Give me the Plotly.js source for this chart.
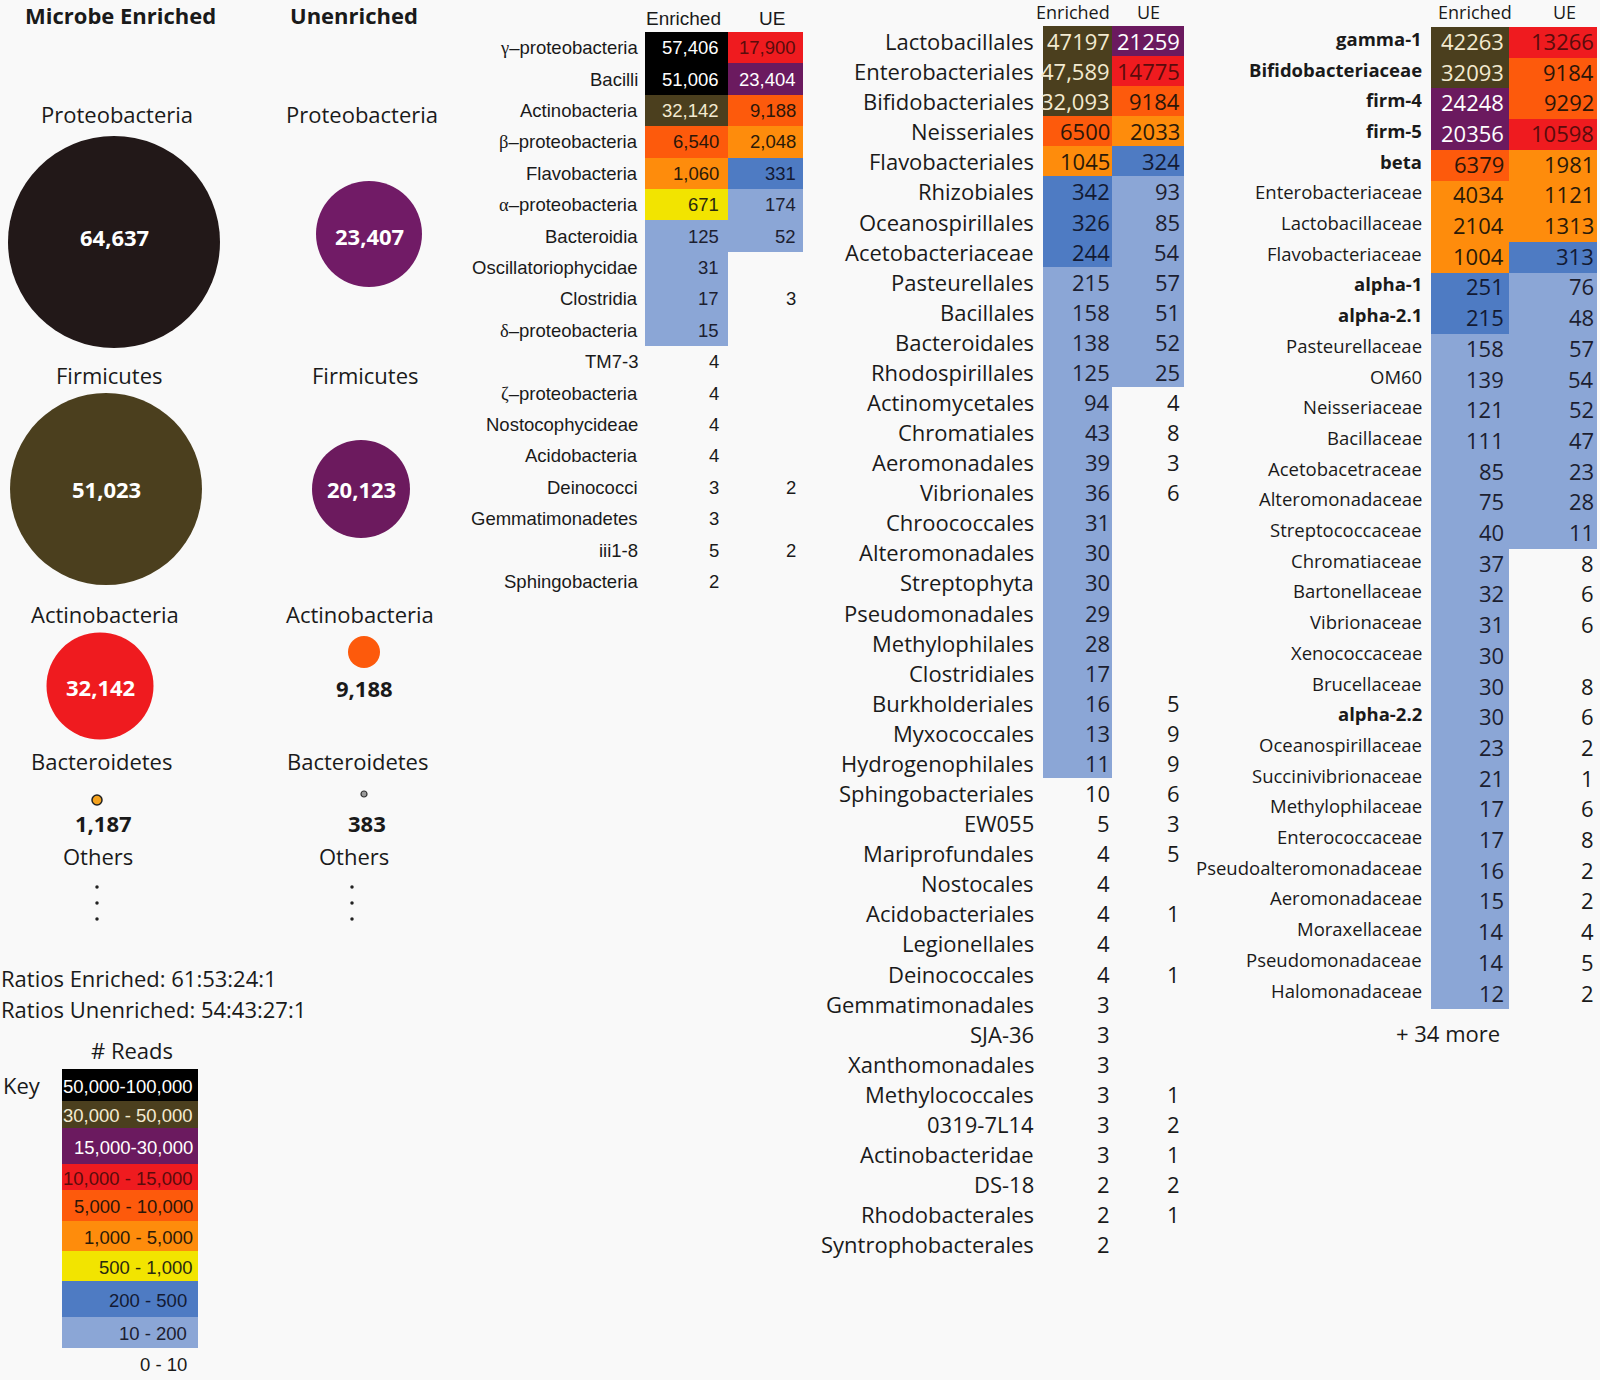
<!DOCTYPE html>
<html><head><meta charset="utf-8">
<script src="https://cdn.plot.ly/plotly-3.0.1.min.js"></script>
<style>html,body{margin:0;padding:0;background:#f9f9f9}</style>
</head><body><div id="chart" style="width:1600px;height:1380px"></div>
<script>
// ---------------- DATA ----------------
const PHYLA = ['Proteobacteria', 'Firmicutes', 'Actinobacteria', 'Bacteroidetes'];
const ENRICHED_READS = [64637, 51023, 32142, 1187];
const UNENRICHED_READS = [23407, 20123, 9188, 383];
const RATIO_TEXT = ['Ratios Enriched: 61:53:24:1', 'Ratios Unenriched: 54:43:27:1'];

const KEY_LABELS = ['50,000-100,000', '30,000 - 50,000', '15,000-30,000', '10,000 - 15,000',
  '5,000 - 10,000', '1,000 - 5,000', '500 - 1,000', '200 - 500', '10 - 200', '0 - 10'];

const T1_LABELS = ['γ–proteobacteria', 'Bacilli', 'Actinobacteria', 'β–proteobacteria', 'Flavobacteria',
  'α–proteobacteria', 'Bacteroidia', 'Oscillatoriophycidae', 'Clostridia', 'δ–proteobacteria', 'TM7-3',
  'ζ–proteobacteria', 'Nostocophycideae', 'Acidobacteria', 'Deinococci', 'Gemmatimonadetes', 'iii1-8', 'Sphingobacteria'];
const T1_ENRICHED = [57406, 51006, 32142, 6540, 1060, 671, 125, 31, 17, 15, 4, 4, 4, 4, 3, 3, 5, 2];
const T1_UE = [17900, 23404, 9188, 2048, 331, 174, 52, null, 3, null, null, null, null, null, 2, null, 2, null];

const T2_LABELS = ['Lactobacillales', 'Enterobacteriales', 'Bifidobacteriales', 'Neisseriales', 'Flavobacteriales',
  'Rhizobiales', 'Oceanospirillales', 'Acetobacteriaceae', 'Pasteurellales', 'Bacillales', 'Bacteroidales',
  'Rhodospirillales', 'Actinomycetales', 'Chromatiales', 'Aeromonadales', 'Vibrionales', 'Chroococcales',
  'Alteromonadales', 'Streptophyta', 'Pseudomonadales', 'Methylophilales', 'Clostridiales', 'Burkholderiales',
  'Myxococcales', 'Hydrogenophilales', 'Sphingobacteriales', 'EW055', 'Mariprofundales', 'Nostocales',
  'Acidobacteriales', 'Legionellales', 'Deinococcales', 'Gemmatimonadales', 'SJA-36', 'Xanthomonadales',
  'Methylococcales', '0319-7L14', 'Actinobacteridae', 'DS-18', 'Rhodobacterales', 'Syntrophobacterales'];
const T2_ENRICHED = [47197, 47589, 32093, 6500, 1045, 342, 326, 244, 215, 158, 138, 125, 94, 43, 39, 36, 31, 30, 30,
  29, 28, 17, 16, 13, 11, 10, 5, 4, 4, 4, 4, 4, 3, 3, 3, 3, 3, 3, 2, 2, 2];
const T2_UE = [21259, 14775, 9184, 2033, 324, 93, 85, 54, 57, 51, 52, 25, 4, 8, 3, 6, null, null, null,
  null, null, null, 5, 9, 9, 6, 3, 5, null, 1, null, 1, null, null, null, 1, 2, 1, 2, 1, null];

const T3_LABELS = ['gamma-1', 'Bifidobacteriaceae', 'firm-4', 'firm-5', 'beta', 'Enterobacteriaceae',
  'Lactobacillaceae', 'Flavobacteriaceae', 'alpha-1', 'alpha-2.1', 'Pasteurellaceae', 'OM60', 'Neisseriaceae',
  'Bacillaceae', 'Acetobacetraceae', 'Alteromonadaceae', 'Streptococcaceae', 'Chromatiaceae', 'Bartonellaceae',
  'Vibrionaceae', 'Xenococcaceae', 'Brucellaceae', 'alpha-2.2', 'Oceanospirillaceae', 'Succinivibrionaceae',
  'Methylophilaceae', 'Enterococcaceae', 'Pseudoalteromonadaceae', 'Aeromonadaceae', 'Moraxellaceae',
  'Pseudomonadaceae', 'Halomonadaceae'];
const T3_ENRICHED = [42263, 32093, 24248, 20356, 6379, 4034, 2104, 1004, 251, 215, 158, 139, 121, 111, 85, 75, 40,
  37, 32, 31, 30, 30, 30, 23, 21, 17, 17, 16, 15, 14, 14, 12];
const T3_UE = [13266, 9184, 9292, 10598, 1981, 1121, 1313, 313, 76, 48, 57, 54, 52, 47, 23, 28, 11,
  8, 6, 6, null, 8, 6, 2, 1, 6, 8, 2, 2, 4, 5, 2];
const T3_MORE = '+ 34 more';

// ---------------- STYLE ----------------
const BG = '#f9f9f9';
const FS = 'Open Sans, Noto Sans, sans-serif';
const FA = 'Liberation Sans, Arial, sans-serif';
const INK = '#1a1a1a';
const CLASS_COLORS = ['#000000', '#4b3f1e', '#6b1a5f', '#ef1b1f', '#fd5a0c', '#fe8c0c', '#f2e400', '#4e7bc3', '#8ba6d6'];
const CLASS_TEXT = ['#ffffff', '#f3ead0', '#ffffff', '#5a0c0c', '#2b1608', '#2b1a08', '#2a2a10', '#131a33', '#1c2030'];
const CLASS_THRESH = [50000, 30000, 15000, 10000, 5000, 1000, 500, 200, 11];
// colour classes that differ from the key in the original figure: [table, row, col] -> class
const CLASS_OVERRIDES = [['t1', 0, 1, 3], ['t2', 8, 0, 8]];

const BUBBLE = {
  e: {x: [114, 106, 100, 97], y: [242, 489, 686, 800], d: [212, 192, 107, 10], ty: [237, 489, 687],
      fill: ['#221818', '#4b3f1e', '#ef1b1f', '#f4a21e'], line: ['#221818', '#4b3f1e', '#ef1b1f', '#222'], lw: [0, 0, 0, 1.5],
      lx: [117, 109, 105, 101], outside: [null, null, null, [103, 823]], others: [98, 856], dotsX: 97},
  u: {x: [369, 361, 364, 364], y: [234, 489, 652, 794], d: [106, 98, 32, 6], ty: [236, 489],
      fill: ['#711b66', '#6c1a5e', '#fd5a0c', '#9a9a9a'], line: ['#711b66', '#6c1a5e', '#fd5a0c', '#333'], lw: [0, 0, 0, 1.2],
      lx: [362, 365, 360, 357], outside: [null, null, [364, 688], [367, 823]], others: [354, 856], dotsX: 352},
  labelY: [114, 375, 614, 761], dotsY0: 887, dotsStep: 16
};

// ---------------- HELPERS ----------------
const traces = [];
const anns = [];
function txt(text, x, y, o) {
  o = o || {};
  return {text: o.bold ? '<b>' + text + '</b>' : text, x: x, y: y, xref: 'x', yref: 'y', showarrow: false,
    xanchor: o.anchor || 'center', yanchor: 'middle', borderpad: 0,
    font: {family: o.family || FS, size: o.size || 22, color: o.color || INK}};
}
function readClass(v) {
  if (v == null) return null;
  for (let i = 0; i < CLASS_THRESH.length; i++) if (v >= CLASS_THRESH[i]) return i;
  return null;
}
const CS = [];
CLASS_COLORS.forEach((c, i) => { CS.push([i / CLASS_COLORS.length, c]); CS.push([(i + 1) / CLASS_COLORS.length, c]); });

function greek(s) {
  return /^[α-ω]/.test(s) ? '<span style="font-family:Liberation Serif">' + s[0] + '</span>' + s.slice(1) : s;
}

function buildTable(cfg) {
  const n = cfg.labels.length;
  const edges = Array.from({length: n + 1}, (_, i) => cfg.top + i * cfg.rowH);
  const cols = [cfg.enr, cfg.ue];
  const z = cfg.labels.map((_, i) => cols.map((arr, j) => {
    const ov = CLASS_OVERRIDES.find(o => o[0] === cfg.id && o[1] === i && o[2] === j);
    return ov ? ov[3] : readClass(arr[i]);
  }));
  traces.push({type: 'heatmap', x: cfg.colEdges, y: edges, z: z, zmin: -0.5, zmax: CLASS_COLORS.length - 0.5,
    colorscale: CS, showscale: false, hoverinfo: 'skip', xgap: 0, ygap: 0});
  cfg.labels.forEach((lab, i) => {
    const yc = cfg.top + (i + 0.5) * cfg.rowH;
    anns.push(txt(greek(lab), cfg.labelX, yc + cfg.labelDy,
      {anchor: 'right', size: cfg.labelSize, family: cfg.family, bold: cfg.bold && cfg.bold.includes(i)}));
    cols.forEach((arr, j) => {
      const v = arr[i];
      if (v == null) return;
      const c = z[i][j];
      anns.push(txt(cfg.fmt(v, i, j), cfg.colEdges[j + 1] - cfg.pad[j], yc + cfg.valueDy,
        {anchor: 'right', size: cfg.valueSize, family: cfg.family, color: c == null ? INK : CLASS_TEXT[c]}));
    });
  });
  anns.push(txt('Enriched', cfg.head[0], cfg.headY, {size: cfg.headSize, family: cfg.family}));
  anns.push(txt('UE', cfg.head[1], cfg.headY, {size: cfg.headSize, family: cfg.family}));
}

// ---------------- BUBBLES ----------------
anns.push(txt('Microbe Enriched', 120, 15, {bold: true, size: 22}));
anns.push(txt('Unenriched', 354, 15, {bold: true, size: 22}));
[['e', ENRICHED_READS], ['u', UNENRICHED_READS]].forEach(([k, vals]) => {
  const b = BUBBLE[k];
  traces.push({type: 'scatter', mode: 'markers', x: b.x, y: b.y, hoverinfo: 'skip',
    marker: {size: b.d, color: b.fill, opacity: 1, line: {color: b.line, width: b.lw}}});
  PHYLA.forEach((p, i) => {
    anns.push(txt(p, b.lx[i], BUBBLE.labelY[i], {size: 22}));
    const s = vals[i].toLocaleString('en-US');
    if (b.outside[i]) anns.push(txt(s, b.outside[i][0], b.outside[i][1], {bold: true, size: 22}));
    else anns.push(txt(s, b.x[i], b.ty[i], {bold: true, size: 22, color: '#ffffff'}));
  });
  anns.push(txt('Others', b.others[0], b.others[1], {size: 22}));
  traces.push({type: 'scatter', mode: 'markers', hoverinfo: 'skip',
    x: [0, 1, 2].map(() => b.dotsX), y: [0, 1, 2].map(j => BUBBLE.dotsY0 + j * BUBBLE.dotsStep),
    marker: {size: 3.5, color: '#222'}});
});
anns.push(txt(RATIO_TEXT[0], 0, 978, {anchor: 'left', size: 22}));
anns.push(txt(RATIO_TEXT[1], 0, 1009, {anchor: 'left', size: 22}));

// ---------------- KEY ----------------
const KEY_EDGES = [1069, 1101, 1128, 1164, 1190, 1221, 1251, 1281, 1317, 1348];
anns.push(txt('# Reads', 132, 1050, {size: 22}));
anns.push(txt('Key', 2, 1085, {anchor: 'left', size: 22}));
traces.push({type: 'heatmap', x: [62, 198], y: KEY_EDGES, z: CLASS_COLORS.map((_, i) => [i]),
  zmin: -0.5, zmax: CLASS_COLORS.length - 0.5, colorscale: CS, showscale: false, hoverinfo: 'skip'});
KEY_LABELS.forEach((l, i) => {
  const y = i < KEY_EDGES.length - 1 ? (KEY_EDGES[i] + KEY_EDGES[i + 1]) / 2 : 1363;
  anns.push(txt(l, i < 7 ? 194 : 188, y + 1, {anchor: 'right', size: 18.5, family: FA,
    color: i < CLASS_TEXT.length ? CLASS_TEXT[i] : INK}));
});

// ---------------- TABLES ----------------
buildTable({id: 't1', labels: T1_LABELS, enr: T1_ENRICHED, ue: T1_UE, top: 32, rowH: 31.4,
  colEdges: [645, 728, 803], labelX: 639, pad: [8, 6], labelDy: 0, valueDy: 0,
  family: FA, labelSize: 18.5, valueSize: 18.5, head: [683, 772], headY: 18, headSize: 19,
  fmt: v => v.toLocaleString('en-US')});
const T2_COMMA = [1, 2];
buildTable({id: 't2', labels: T2_LABELS, enr: T2_ENRICHED, ue: T2_UE, top: 26, rowH: 30.08,
  colEdges: [1043, 1112, 1184], labelX: 1035, pad: [1, 3], labelDy: 0, valueDy: 0,
  family: FS, labelSize: 22, valueSize: 22, head: [1073, 1148], headY: 12, headSize: 18,
  fmt: (v, i, j) => (j === 0 && T2_COMMA.includes(i)) ? v.toLocaleString('en-US') : String(v)});
buildTable({id: 't3', labels: T3_LABELS, enr: T3_ENRICHED, ue: T3_UE, top: 27, rowH: 30.7,
  colEdges: [1431, 1509, 1597], labelX: 1423, pad: [4, 2], labelDy: -4, valueDy: -1.5,
  family: FS, labelSize: 18.5, valueSize: 22, head: [1475, 1564], headY: 12, headSize: 18,
  bold: [0, 1, 2, 3, 4, 8, 9, 22], fmt: v => String(v)});
anns.push(txt(T3_MORE, 1448, 1033, {size: 22}));

// ---------------- LAYOUT ----------------
const layout = {
  width: 1600, height: 1380, margin: {l: 0, r: 0, t: 0, b: 0},
  paper_bgcolor: BG, plot_bgcolor: BG, showlegend: false,
  xaxis: {range: [0, 1600], visible: false, fixedrange: true},
  yaxis: {range: [1380, 0], visible: false, fixedrange: true},
  annotations: anns
};
Plotly.newPlot('chart', traces, layout, {staticPlot: true, displayModeBar: false});
</script></body></html>
